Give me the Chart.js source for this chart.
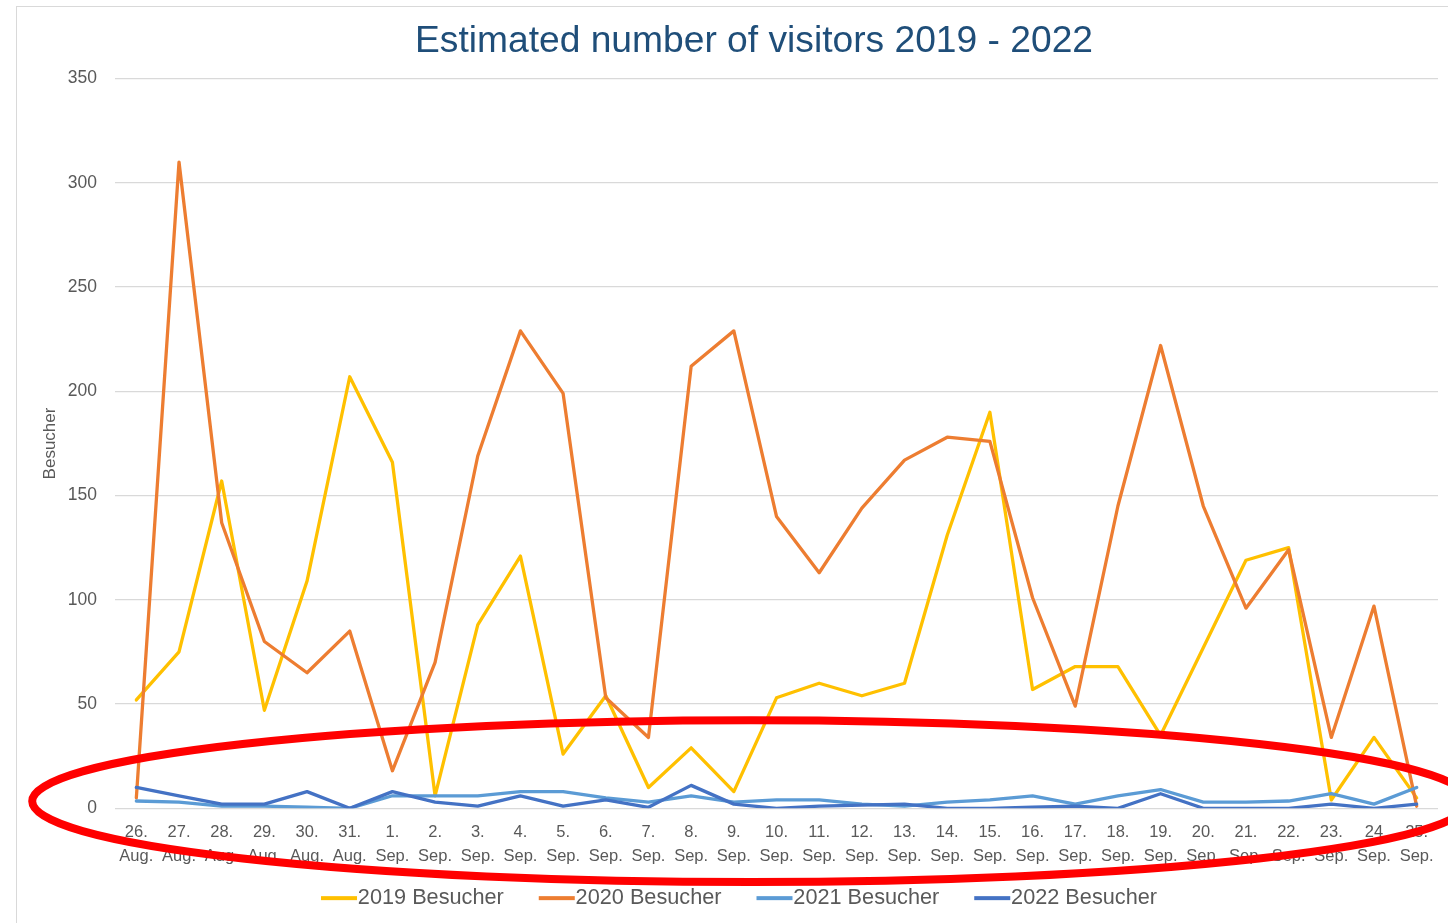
<!DOCTYPE html>
<html>
<head>
<meta charset="utf-8">
<script src="https://cdn.jsdelivr.net/npm/chart.js@4.4.1/dist/chart.umd.min.js"></script>
<style>
  html, body { margin: 0; padding: 0; background: #fff; overflow: hidden; }
  #frame {
    position: absolute; left: 16px; top: 6px;
    width: 1460px; height: 928px;
    border-left: 1px solid #d9d9d9; border-top: 1px solid #d9d9d9;
  }
  #chart-visitors { display: block; }
</style>
</head>
<body>
<div id="frame"><canvas id="chart-visitors" width="1460" height="928"></canvas></div>
<script>
// Kategorien (Tag / Monat)
const days = ['26.', '27.', '28.', '29.', '30.', '31.', '1.', '2.', '3.', '4.', '5.', '6.', '7.', '8.', '9.', '10.',
              '11.', '12.', '13.', '14.', '15.', '16.', '17.', '18.', '19.', '20.', '21.', '22.', '23.', '24', '25.'];
const months = ['Aug.', 'Aug.', 'Aug.', 'Aug.', 'Aug.', 'Aug.', 'Sep.', 'Sep.', 'Sep.', 'Sep.', 'Sep.', 'Sep.', 'Sep.', 'Sep.',
                'Sep.', 'Sep.', 'Sep.', 'Sep.', 'Sep.', 'Sep.', 'Sep.', 'Sep.', 'Sep.', 'Sep.', 'Sep.', 'Sep.', 'Sep.', 'Sep.',
                'Sep.', 'Sep.', 'Sep.'];

// Besucher pro Jahr
const visitors2019 = [52, 75, 157, 47, 109, 207, 166, 6, 88, 121, 26, 54, 10, 29, 8, 53, 60, 54, 60, 131, 190, 57, 68, 68, 35, 77, 119, 125, 4, 34, 5];
const visitors2020 = [5, 310, 137, 80, 65, 85, 18, 70, 169, 229, 199, 53, 34, 212, 229, 140, 113, 144, 167, 178, 176, 101, 49, 145, 222, 145, 96, 124, 34, 97, 1];
const visitors2021 = [3.5, 3, 1, 1, 0.5, 0, 6, 6, 6, 8, 8, 5, 3, 6, 3, 4, 4, 2, 1, 3, 4, 6, 2, 6, 9, 3, 3, 3.5, 7, 2, 10];
const visitors2022 = [10, 6, 2, 2, 8, 0, 8, 3, 1, 6, 1, 4, 0.5, 11, 2, 0, 1, 1.5, 2, 0, 0, 0.5, 1, 0, 7, 0, 0, 0, 2, 0, 2];

const seriesNames = ['2019 Besucher', '2020 Besucher', '2021 Besucher', '2022 Besucher'];
const seriesColors = ['#FFC000', '#ED7D31', '#5B9BD5', '#4472C4'];

// Y-Achse
const yMin = 0, yMax = 350, yStep = 50;

// roter Kreis (Markierung), in Achsen-Einheiten: [Kategorie-Index, Wert]
const ringCenter = [14.4, 3.4];
const ringRadius = [16.84, 38.8];

const labels = days.map((d, i) => [d, months[i]]);
const allSeries = [visitors2019, visitors2020, visitors2021, visitors2022];

const textGrey = '#595959';
const legendLift = 16;  // Legende näher an die Achse
const legendShift = -8; // Legende etwas nach links
const titleShift = 7;   // Titel etwas nach rechts
Chart.defaults.font.family = "'Liberation Sans', Arial, sans-serif";

// Legenden-Linien + roter Kreis
const overlayPlugin = {
  id: 'overlay',
  afterLayout(chart) {
    const lg = chart.legend;
    lg.top -= legendLift;
    lg.bottom -= legendLift;
    lg.left += legendShift;
    lg.right += legendShift;
    chart.titleBlock.left += titleShift;
    chart.titleBlock.right += titleShift;
  },
  afterDraw(chart) {
    const ctx = chart.ctx;
    const legend = chart.legend;
    legend.legendItems.forEach((item, i) => {
      const hb = legend.legendHitBoxes[i];
      ctx.save();
      ctx.fillStyle = seriesColors[item.datasetIndex];
      ctx.fillRect(hb.left, hb.top + hb.height / 2 - 2, 36, 4);
      ctx.restore();
    });

    const xs = chart.scales.x, ys = chart.scales.y;
    const cx = xs.getPixelForValue(ringCenter[0]);
    const rx = xs.getPixelForValue(ringCenter[0] + ringRadius[0]) - cx;
    const cy = ys.getPixelForValue(ringCenter[1]);
    const ry = cy - ys.getPixelForValue(ringCenter[1] + ringRadius[1]);
    ctx.save();
    ctx.strokeStyle = '#FF0000';
    ctx.lineWidth = 8;
    ctx.beginPath();
    ctx.ellipse(cx, cy, rx, ry, 0, 0, Math.PI * 2);
    ctx.stroke();
    ctx.restore();
  }
};

const datasets = allSeries.map((data, i) => ({
  label: seriesNames[i],
  data: data,
  borderColor: seriesColors[i],
  backgroundColor: seriesColors[i],
  borderWidth: 3.3,
  pointRadius: 0,
  tension: 0,
  borderJoinStyle: 'round',
  borderCapStyle: 'round',
  order: allSeries.length - i // spätere Jahre oben
}));

new Chart(document.getElementById('chart-visitors'), {
  type: 'line',
  data: { labels, datasets },
  options: {
    responsive: false,
    animation: false,
    layout: { padding: 0 },
    scales: {
      x: {
        offset: true,
        grid: { display: false, drawTicks: false },
        border: { display: false },
        ticks: {
          color: textGrey,
          font: { size: 16.5, lineHeight: 1.45 },
          padding: 12,
          maxRotation: 0,
          autoSkip: false
        },
        afterFit: s => { s.height = 60; }
      },
      y: {
        min: yMin,
        max: yMax,
        grid: { color: '#D9D9D9', lineWidth: 1.3, drawTicks: false },
        border: { display: false },
        ticks: { stepSize: yStep, color: textGrey, font: { size: 17.5 }, padding: 18 },
        title: {
          display: true,
          text: 'Besucher',
          color: textGrey,
          font: { size: 17 },
          padding: { top: 23, bottom: 0 }
        },
        afterFit: s => { s.width = 98; }
      },
      yRight: {
        position: 'right',
        display: true,
        grid: { display: false, drawTicks: false },
        border: { display: false },
        ticks: { display: false },
        afterFit: s => { s.width = 39; }
      }
    },
    plugins: {
      title: {
        display: true,
        text: 'Estimated number of visitors 2019 - 2022',
        color: '#1F4E79',
        font: { size: 37.2, weight: 'normal' },
        padding: { top: 12, bottom: 15 }
      },
      legend: {
        position: 'bottom',
        labels: {
          boxWidth: 26,
          boxHeight: 4,
          padding: 35,
          color: textGrey,
          font: { size: 21.7 },
          generateLabels: chart => Chart.defaults.plugins.legend.labels.generateLabels(chart)
            .sort((a, b) => a.datasetIndex - b.datasetIndex)
            .map(l => Object.assign(l, { lineWidth: 0, fillStyle: 'rgba(0,0,0,0)', strokeStyle: 'rgba(0,0,0,0)' }))
        }
      },
      tooltip: { enabled: false }
    }
  },
  plugins: [overlayPlugin]
});
</script>
</body>
</html>
